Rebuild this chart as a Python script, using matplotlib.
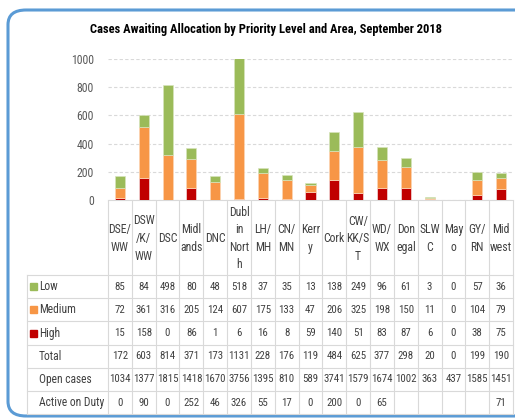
import matplotlib
matplotlib.use("Agg")
import matplotlib.pyplot as plt
import matplotlib.transforms as mtransforms
from matplotlib import font_manager
from matplotlib.lines import Line2D
from matplotlib.patches import FancyBboxPatch, Rectangle

areas = ["DSE/\nWW", "DSW\n/K/\nWW", "DSC", "Midl\nands", "DNC", "Dubl\nin\nNort\nh",
         "LH/\nMH", "CN/\nMN", "Kerr\ny", "Cork", "CW/\nKK/S\nT", "WD/\nWX",
         "Don\negal", "SLW\nC", "May\no", "GY/\nRN", "Mid\nwest"]
low    = [85, 84, 498, 80, 48, 518, 37, 35, 13, 138, 249, 96, 61, 3, 0, 57, 36]
medium = [72, 361, 316, 205, 124, 607, 175, 133, 47, 206, 325, 198, 150, 11, 0, 104, 79]
high   = [15, 158, 0, 86, 1, 6, 16, 8, 59, 140, 51, 83, 87, 6, 0, 38, 75]
total  = [172, 603, 814, 371, 173, 1131, 228, 176, 119, 484, 625, 377, 298, 20, 0, 199, 190]
open_cases = [1034, 1377, 1815, 1418, 1670, 3756, 1395, 810, 589, 3741, 1579, 1674,
              1002, 363, 437, 1585, 1451]
active_on_duty = ["0", "90", "0", "252", "46", "326", "55", "17", "0", "200", "0", "65",
                  "", "", "", "", "71"]
y_ticks = [0, 200, 400, 600, 800, 1000]

C_LOW, C_MED, C_HIGH = "#9BBB59", "#F79646", "#C00000"
GRID = "#D9D9D9"
TXT = "#404040"

# pick a narrow font if there is one
names = {f.name for f in font_manager.fontManager.ttflist}
FONT = "DejaVu Sans"
for cand in ["Liberation Sans Narrow", "Roboto Condensed", "Open Sans Condensed", "Lato"]:
    if cand in names:
        FONT = cand
        break
plt.rcParams["font.family"] = [FONT, "DejaVu Sans"]

W, H = 515, 418
fig = plt.figure(figsize=(W / 100, H / 100), dpi=100)


def fy(y):
    return 1 - y / H


def fx(x):
    return x / W


ax = fig.add_axes([fx(108), fy(200), fx(513) - fx(108), fy(59) - fy(200)])

x = list(range(len(areas)))
bw = 0.42
base2 = [h + m for h, m in zip(high, medium)]
ax.bar(x, high, bw, color=C_HIGH, edgecolor="#F2DCDB", linewidth=0.5, zorder=3)
ax.bar(x, medium, bw, bottom=high, color=C_MED, edgecolor="#FCD5B4", linewidth=0.5, zorder=3)
ax.bar(x, low, bw, bottom=base2, color=C_LOW, edgecolor="#D7E4BC", linewidth=0.5, zorder=3)

ax.set_xlim(-0.5, len(areas) - 0.5)
ax.set_ylim(0, 1000)
ax.set_yticks(y_ticks)
ax.set_xticks([])
ax.tick_params(axis="y", length=0, labelsize=8.5, labelcolor="#595959", pad=10)
ax.yaxis.grid(True, color=GRID, linestyle=(0, (3, 2)), linewidth=0.8, zorder=0)
for s in ["top", "right", "left"]:
    ax.spines[s].set_visible(False)
ax.spines["bottom"].set_color(GRID)
ax.spines["bottom"].set_linewidth(0.8)

fig.text(fx(266), fy(30), "Cases Awaiting Allocation by Priority Level and Area, September 2018",
         ha="center", va="center", fontsize=9, fontweight="bold", color="#000000")

# data table below the plot
blend = mtransforms.blended_transform_factory(ax.transData, fig.transFigure)
label_top, row_top, row_h = 200, 275, 23.2
n_rows = 6
table_bottom = row_top + n_rows * row_h

ax.vlines([i - 0.5 for i in range(len(areas) + 1)], fy(table_bottom), fy(label_top),
          transform=blend, colors=GRID, linewidth=0.8, clip_on=False)
for r in range(n_rows + 1):
    yy = fy(row_top + r * row_h)
    fig.add_artist(Line2D([fx(27), fx(513)], [yy, yy], color=GRID, linewidth=0.8))
fig.add_artist(Line2D([fx(27), fx(27)], [fy(row_top), fy(table_bottom)], color=GRID, linewidth=0.8))

for i, lab in enumerate(areas):
    ax.text(i, fy((label_top + row_top) / 2 + 1), lab, transform=blend, ha="center", va="center",
            fontsize=8.5, color=TXT, linespacing=1.45, clip_on=False)

rows = [("Low", low, C_LOW), ("Medium", medium, C_MED), ("High", high, C_HIGH),
        ("Total", total, None), ("Open cases", open_cases, None),
        ("Active on Duty", active_on_duty, None)]
for r, (name, vals, col) in enumerate(rows):
    yc = row_top + (r + 0.5) * row_h
    if col is not None:
        fig.add_artist(Rectangle((fx(30), fy(yc + 3.5)), fx(7), 7 / H,
                                 transform=fig.transFigure, color=col))
    fig.text(fx(39), fy(yc), name, ha="left", va="center", fontsize=8.3, color=TXT)
    for i, v in enumerate(vals):
        ax.text(i, fy(yc), str(v), transform=blend, ha="center", va="center",
                fontsize=7.8, color=TXT, clip_on=False)

# rounded blue frame
fig.add_artist(FancyBboxPatch((fx(8), fy(416)), fx(560) - fx(8), fy(10) - fy(416),
                              boxstyle="round,pad=0,rounding_size=0.035",
                              transform=fig.transFigure, facecolor="none",
                              edgecolor="#5B9BD5", linewidth=2.2))

fig.savefig("out.png", dpi=100)
